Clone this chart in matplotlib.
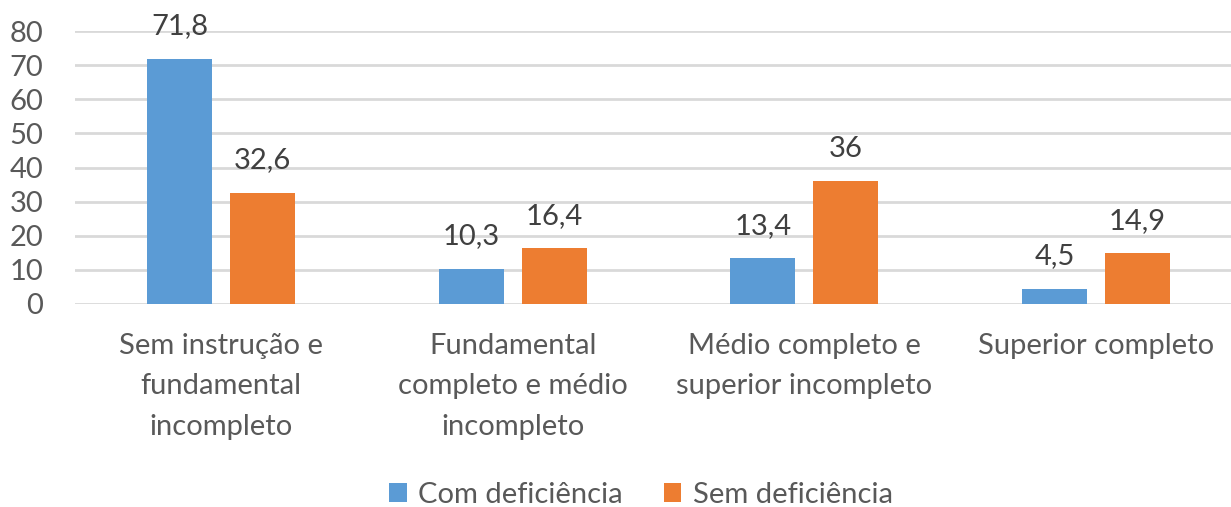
import matplotlib
matplotlib.use("Agg")
import matplotlib.pyplot as plt
import numpy as np

categories = ["Sem instrução e\nfundamental\nincompleto",
              "Fundamental\ncompleto e médio\nincompleto",
              "Médio completo e\nsuperior incompleto",
              "Superior completo"]
series_names = ["Com deficiência", "Sem deficiência"]
com_def = [71.8, 10.3, 13.4, 4.5]
sem_def = [32.6, 16.4, 36, 14.9]
yticks = [0, 10, 20, 30, 40, 50, 60, 70, 80]

colors = ["#5B9BD5", "#ED7D31"]
text_color = "#595959"
plt.rcParams['font.family'] = ['Lato', 'DejaVu Sans']
FS = 21

W, H = 1231, 507
fig = plt.figure(figsize=(W / 100, H / 100), dpi=100)
left_px, right_px, top_px, bot_px = 75, 1242, 31, 304
ax = fig.add_axes([left_px / W, 1 - bot_px / H, (right_px - left_px) / W, (bot_px - top_px) / H])

x = np.arange(len(categories))
bw = 0.223
off = 0.142

def fmt(v):
    return ("%g" % v).replace(".", ",")

for vals, sgn, c, name in [(com_def, -1, colors[0], series_names[0]), (sem_def, 1, colors[1], series_names[1])]:
    bars = ax.bar(x + sgn * off, vals, width=bw, color=c, label=name, zorder=3)
    for b, v in zip(bars, vals):
        ax.annotate(fmt(v), (b.get_x() + b.get_width() / 2, v), xytext=(0, 14),
                    textcoords="offset points", ha="center", va="bottom",
                    fontsize=FS, color="#404040")

ax.set_xlim(-0.5, len(categories) - 0.5)
ax.set_ylim(0, 80)
ax.set_yticks(yticks)
ax.set_yticklabels([str(t) for t in yticks])
ax.yaxis.grid(True, color="#D9D9D9", linewidth=2, zorder=0)
ax.set_axisbelow(True)
for s in ax.spines.values():
    s.set_visible(False)
ax.tick_params(axis="y", length=0, pad=23, labelsize=FS, labelcolor=text_color)
ax.set_xticks(x)
ax.set_xticklabels(categories, fontsize=FS, color=text_color, linespacing=1.68)
ax.tick_params(axis="x", length=0, pad=21)

leg = fig.legend(loc="center", bbox_to_anchor=(641 / W, 1 - 495 / H), ncol=2, frameon=False,
                 fontsize=FS, handlelength=0.6, handleheight=0.6, handletextpad=0.4,
                 columnspacing=1.4)
for t in leg.get_texts():
    t.set_color(text_color)

fig.savefig("out.png", dpi=100)
